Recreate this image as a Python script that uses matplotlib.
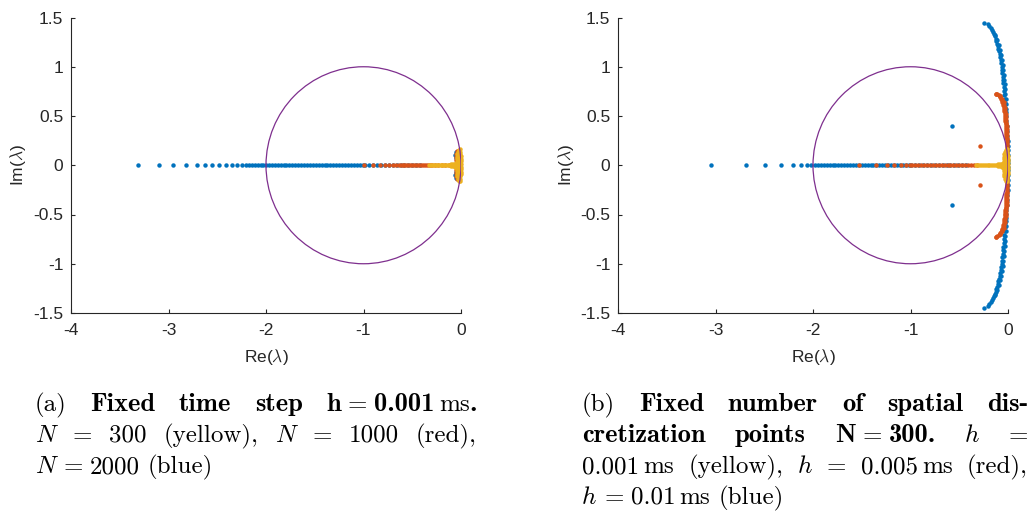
import numpy as np
import matplotlib.pyplot as plt
from matplotlib.patches import Circle

plt.rcParams['mathtext.fontset'] = 'cm'
plt.rcParams['font.family'] = ['Liberation Sans', 'DejaVu Sans']
plt.rcParams['axes.unicode_minus'] = False

BLUE, RED, YELLOW, PURPLE = '#0072BD', '#D95319', '#EDB120', '#7E2F8E'
INK = '#262626'
W, H = 1032, 525

x_ticks = [-4, -3, -2, -1, 0]
x_ticklabels = ['-4', '-3', '-2', '-1', '0']
y_ticks = [-1.5, -1, -0.5, 0, 0.5, 1, 1.5]
y_ticklabels = ['-1.5', '-1', '-0.5', '0', '0.5', '1', '1.5']
circle_center = (-1, 0)
circle_radius = 1

# N = 300, h = 0.001 ms -> same run in both panels (yellow)
yel_re = [-0.33, -0.31, -0.29, -0.27, -0.25, -0.23, -0.21, -0.19, -0.17,
          -0.15, -0.13, -0.11, -0.09, -0.07, -0.05, -0.03, -0.01]
yel_cloud_re = [-0.10, -0.08, -0.065, -0.05, -0.04, -0.045, -0.030, -0.010,
                0.004, -0.044, -0.028, -0.008, 0.004, -0.042, -0.026, -0.007,
                0.003, -0.040, -0.024, -0.006, 0.002, -0.036, -0.020, -0.006,
                -0.030, -0.016, -0.006, -0.022, -0.010]
yel_cloud_im = [0.008, 0.012, 0.016, 0.020, 0.025, 0.010, 0.012, 0.010,
                0.015, 0.035, 0.040, 0.035, 0.040, 0.060, 0.065, 0.060,
                0.065, 0.085, 0.090, 0.085, 0.090, 0.110, 0.115, 0.110,
                0.135, 0.140, 0.135, 0.155, 0.160]

# (a) N = 2000 (blue)
a_blue_re = [-3.31, -3.10, -2.95, -2.82, -2.71, -2.63, -2.55, -2.48, -2.41,
             -2.35, -2.30, -2.25, -2.21, -2.17, -2.14, -2.11, -2.08, -2.05,
             -2.03, -2.00, -1.97, -1.94, -1.91, -1.88, -1.85, -1.82, -1.79,
             -1.76, -1.73, -1.70, -1.67, -1.64, -1.61, -1.58, -1.55, -1.52,
             -1.49, -1.46, -1.43, -1.40, -1.37, -1.34, -1.31, -1.28, -1.25,
             -1.22, -1.19, -1.16, -1.13, -1.10, -1.07, -1.04, -1.01, -0.98,
             -0.94, -0.90, -0.86, -0.82, -0.78, -0.74, -0.70, -0.66, -0.62,
             -0.58, -0.54, -0.50, -0.46, -0.42]
a_blue_cloud_re = [-0.055, -0.058, -0.052]
a_blue_cloud_im = [0.07, 0.10, 0.13]

# (a) N = 1000 (red)
a_red_re = [-0.99, -0.90, -0.83, -0.78, -0.74, -0.70, -0.67, -0.64, -0.62,
            -0.60, -0.58, -0.56, -0.54, -0.52, -0.50, -0.48, -0.46, -0.44,
            -0.42, -0.40, -0.38, -0.36, -0.34, -0.32, -0.30, -0.27, -0.24,
            -0.20, -0.16, -0.12]
a_red_cloud_re = [-0.050, -0.052, -0.048, -0.044]
a_red_cloud_im = [0.05, 0.08, 0.11, 0.14]

# (b) h = 0.01 ms (blue)
b_blue_re = [-3.05, -2.69, -2.49, -2.33, -2.21, -2.12, -2.06, -2.02, -1.98,
             -1.95, -1.92, -1.89, -1.86, -1.83, -1.80, -1.77, -1.74, -1.71,
             -1.68, -1.65, -1.62, -1.59, -1.56, -1.53, -1.50, -1.47, -1.44,
             -1.41, -1.38, -1.35, -1.32, -1.29, -1.26, -1.23, -1.20, -1.17,
             -1.14, -1.11, -1.08, -1.05, -1.02, -0.99, -0.95, -0.91, -0.87,
             -0.83, -0.79, -0.75, -0.71, -0.67, -0.63, -0.59, -0.55, -0.51,
             -0.47, -0.43]
b_blue_arc_re = [-0.243, -0.205, -0.190, -0.178, -0.165, -0.155, -0.145,
                 -0.137, -0.128, -0.120, -0.113, -0.106, -0.099, -0.093,
                 -0.087, -0.081, -0.076, -0.071, -0.066, -0.062, -0.059,
                 -0.055, -0.051, -0.047, -0.044, -0.040, -0.037, -0.034,
                 -0.031, -0.028, -0.025, -0.021, -0.018, -0.015, -0.011,
                 -0.008, -0.005, -0.003, -0.002, -0.001, 0.000, 0.000,
                 -0.132, -0.112, -0.096, -0.083, -0.072, -0.063, -0.055,
                 -0.049, -0.044, -0.039, -0.035, -0.031, -0.028, -0.025,
                 -0.022, -0.019, -0.570]
b_blue_arc_im = [1.445, 1.430, 1.410, 1.390, 1.370, 1.350, 1.330, 1.310,
                 1.285, 1.260, 1.235, 1.210, 1.180, 1.155, 1.125, 1.095,
                 1.065, 1.035, 1.000, 0.970, 0.935, 0.900, 0.865, 0.830,
                 0.790, 0.750, 0.710, 0.670, 0.630, 0.585, 0.540, 0.495,
                 0.450, 0.400, 0.350, 0.300, 0.250, 0.200, 0.150, 0.100,
                 0.050, 0.020,
                 1.320, 1.270, 1.220, 1.170, 1.120, 1.070, 1.020, 0.970,
                 0.920, 0.870, 0.820, 0.770, 0.720, 0.670, 0.620, 0.570,
                 0.400]

# (b) h = 0.005 ms (red)
b_red_re = [-1.525, -1.354, -1.238, -1.17, -1.10, -1.05, -1.01, -0.98, -0.95,
            -0.92, -0.89, -0.86, -0.83, -0.80, -0.77, -0.74, -0.71, -0.68,
            -0.65, -0.62, -0.59, -0.56, -0.53, -0.50, -0.47, -0.44, -0.41,
            -0.38, -0.35, -0.32]
b_red_arc_re = [-0.127, -0.110, -0.097, -0.087, -0.079, -0.070, -0.063,
                -0.057, -0.052, -0.047, -0.043, -0.040, -0.037, -0.035,
                -0.032, -0.030, -0.028, -0.026, -0.024, -0.023, -0.021,
                -0.020, -0.019, -0.018, -0.017, -0.016, -0.014, -0.013,
                -0.012, -0.012, -0.011, -0.010, -0.010, -0.009, -0.009,
                -0.008, -0.008,
                -0.118, -0.080, -0.058, -0.046, -0.038, -0.032, -0.028,
                -0.024, -0.021, -0.018, -0.016, -0.014, -0.012, -0.010,
                -0.008, -0.006, -0.287]
b_red_arc_im = [0.725, 0.720, 0.710, 0.700, 0.690, 0.675, 0.660, 0.645,
                0.630, 0.610, 0.590, 0.570, 0.550, 0.530, 0.510, 0.490,
                0.470, 0.450, 0.430, 0.410, 0.390, 0.370, 0.350, 0.330,
                0.310, 0.290, 0.270, 0.250, 0.230, 0.210, 0.190, 0.170,
                0.150, 0.130, 0.110, 0.090, 0.070,
                0.728, 0.700, 0.670, 0.640, 0.610, 0.580, 0.550, 0.520,
                0.490, 0.460, 0.430, 0.400, 0.370, 0.340, 0.310, 0.280,
                0.200]


def pairs(re, im):
    # eigenvalues come in conjugate pairs: upper half read, lower half mirrored
    re = np.asarray(re)
    im = np.asarray(im)
    return np.concatenate([re, re]), np.concatenate([im, -im])


def dots(ax, re, im, color):
    ax.plot(re, im, 'o', ms=3.2, mew=0, color=color, clip_on=False)


def style(ax):
    ax.set_xlim(-4, 0)
    ax.set_ylim(-1.5, 1.5)
    ax.set_xticks(x_ticks, x_ticklabels)
    ax.set_yticks(y_ticks, y_ticklabels)
    ax.spines[['top', 'right']].set_visible(False)
    for s in ['left', 'bottom']:
        ax.spines[s].set_color(INK)
        ax.spines[s].set_linewidth(0.8)
    ax.tick_params(direction='in', length=3, width=0.8, color=INK,
                   labelcolor=INK, labelsize=12.5)
    ax.tick_params(axis='x', pad=7)
    ax.tick_params(axis='y', pad=5.5)
    ax.set_xlabel(r'Re($\lambda$)', fontsize=12.5, color=INK, va='center')
    ax.set_ylabel(r'Im($\lambda$)', fontsize=12.5, color=INK, va='center')
    ax.xaxis.set_label_coords(0.5, (313 - 357) / 295.5)
    ax.yaxis.set_label_coords((18.5 - 71) / 390, 0.5)
    ax.add_patch(Circle(circle_center, circle_radius, fill=False,
                        ec=PURPLE, lw=0.9, zorder=5))


fig = plt.figure(figsize=(W / 100, H / 100), dpi=100)
ax_a = fig.add_axes([71 / W, 212 / H, 390 / W, 295.5 / H])
ax_b = fig.add_axes([618 / W, 212 / H, 390 / W, 295.5 / H])

# (a) fixed h
dots(ax_a, a_blue_re, np.zeros(len(a_blue_re)), BLUE)
dots(ax_a, *pairs(a_blue_cloud_re, a_blue_cloud_im), BLUE)
dots(ax_a, a_red_re, np.zeros(len(a_red_re)), RED)
dots(ax_a, *pairs(a_red_cloud_re, a_red_cloud_im), RED)
dots(ax_a, yel_re, np.zeros(len(yel_re)), YELLOW)
dots(ax_a, *pairs(yel_cloud_re, yel_cloud_im), YELLOW)
style(ax_a)

# (b) fixed N
dots(ax_b, b_blue_re, np.zeros(len(b_blue_re)), BLUE)
dots(ax_b, *pairs(b_blue_arc_re, b_blue_arc_im), BLUE)
dots(ax_b, b_red_re, np.zeros(len(b_red_re)), RED)
dots(ax_b, *pairs(b_red_arc_re, b_red_arc_im), RED)
dots(ax_b, yel_re, np.zeros(len(yel_re)), YELLOW)
dots(ax_b, *pairs(yel_cloud_re, yel_cloud_im), YELLOW)
style(ax_b)

# captions: LaTeX-like justified lines built from Computer Modern pieces
CAP_FS = 18
R, B, I = 'cmr10', 'cmb10', 'cmmi10'
TH, TN, SP = 0.2777, 0.1667, 0.3333   # thick / thin / word space, in em
renderer = fig.canvas.get_renderer()


def caption_line(words, x0, x1, y, justify=True):
    em = CAP_FS * 100 / 72
    placed = []
    for word in words:
        pieces = []
        for s, fam, *g in word:
            # cmb10 is narrower than LaTeX's bold extended face
            fs = CAP_FS * 1.06 if fam == B else CAP_FS
            t = fig.text(0, 1 - y / H, s, family=fam, fontsize=fs,
                         va='baseline', color='black')
            w = t.get_window_extent(renderer).width
            pieces.append((t, w, (g[0] if g else 0) * em))
        placed.append((pieces, sum(w + g for _, w, g in pieces)))
    total = sum(w for _, w in placed)
    gap = (x1 - x0 - total) / (len(placed) - 1) if justify else SP * em
    x = x0
    for pieces, _ in placed:
        for t, w, g in pieces:
            x += g
            t.set_x(x / W)
            x += w
        x += gap


A0, A1 = 35, 477
B0, B1 = 582, 1028
Y0, DY = 411, 31

caption_line([[('(a)', R)], [('Fixed', B)], [('time', B)], [('step', B)],
              [('h', B), ('=', R, TH), ('0.001', B, TH), ('ms', R, TN),
               ('.', B)]], A0, A1, Y0)
caption_line([[('N', I)], [('=', R)], [('300', R)], [('(yellow),', R)],
              [('N', I)], [('=', R)], [('1000', R)], [('(red),', R)]],
             A0, A1, Y0 + DY)
caption_line([[('N', I), ('=', R, TH + 0.06), ('2000', R, TH),
               ('(blue)', R, SP)]], A0, A1, Y0 + 2 * DY, justify=False)

caption_line([[('(b)', R)], [('Fixed', B)], [('number', B)], [('of', B)],
              [('spatial', B)], [('dis-', B)]], B0, B1, Y0)
caption_line([[('cretization', B)], [('points', B)],
              [('N', B), ('=', R, TH), ('300.', B, TH)], [('h', I)],
              [('=', R)]], B0, B1, Y0 + DY)
caption_line([[('0.001', R), ('ms', R, TN)], [('(yellow),', R)], [('h', I)],
              [('=', R)], [('0.005', R), ('ms', R, TN)], [('(red),', R)]],
             B0, B1, Y0 + 2 * DY)
caption_line([[('h', I), ('=', R, TH + 0.04), ('0.01', R, TH), ('ms', R, TN),
               ('(blue)', R, SP)]], B0, B1, Y0 + 3 * DY, justify=False)

fig.savefig('out.png', dpi=100)
plt.close(fig)
